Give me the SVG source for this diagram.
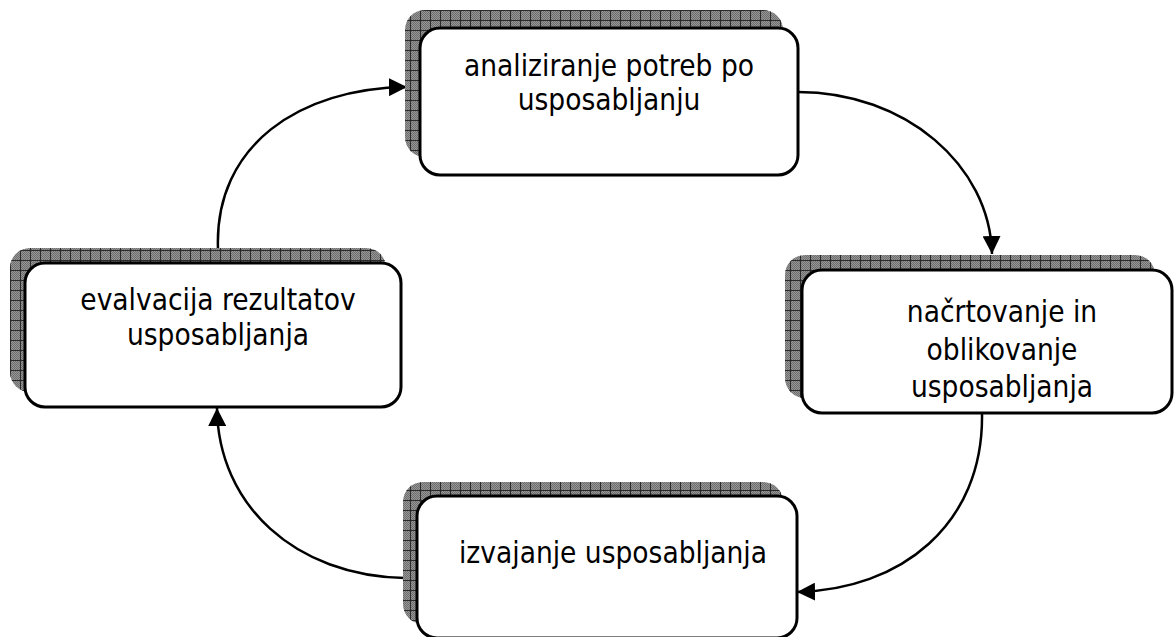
<svg xmlns="http://www.w3.org/2000/svg" width="1174" height="637" viewBox="0 0 1174 637">
<style>
.box{fill:#ffffff;stroke:#000000;stroke-width:3}
.sh1{fill:url(#dither)}
.sh2{fill:url(#grid)}
.lbl{font-family:"DejaVu Sans Condensed","DejaVu Sans",sans-serif;font-size:29.5px;fill:#000000;text-anchor:middle}
.con{fill:none;stroke:#000000;stroke-width:2.5}
</style>
<defs>
<pattern id="dither" width="2" height="2" patternUnits="userSpaceOnUse">
<rect width="2" height="2" fill="#969696"/>
<rect width="1" height="1" fill="#6e6e6e"/>
<rect x="1" y="1" width="1" height="1" fill="#6e6e6e"/>
</pattern>
<pattern id="grid" width="10" height="10" patternUnits="userSpaceOnUse">
<path d="M0 0.5 H10 M0.5 0 V10" stroke="#2a2a2a" stroke-width="1" fill="none"/>
</pattern>
<marker id="arr" markerWidth="18" markerHeight="18" viewBox="0 0 18 18" refX="18" refY="9" orient="auto" markerUnits="userSpaceOnUse">
<path d="M0 0 L18 9 L0 18 Z" fill="#000000"/>
</marker>
</defs>

<g id="connectors">
<path class="con" d="M798 92 C 905 92, 990 165, 992 254" marker-end="url(#arr)"/>
<path class="con" d="M982 413 C 984 525, 900 590, 797 592" marker-end="url(#arr)"/>
<path class="con" d="M405 578 C 295 576, 218 505, 217 408" marker-end="url(#arr)"/>
<path class="con" d="M218 249 C 214 145, 300 88, 407 87" marker-end="url(#arr)"/>
</g>

<g id="node-analiziranje">
<rect class="sh1" x="405" y="10" width="378" height="147" rx="20"/>
<rect class="sh2" x="405" y="10" width="378" height="147" rx="20"/>
<rect class="box" x="420" y="28" width="378" height="147" rx="20"/>
<text class="lbl" x="609" y="76">analiziranje potreb po</text>
<text class="lbl" x="609" y="110">usposabljanju</text>
</g>

<g id="node-nacrtovanje">
<rect class="sh1" x="785" y="255" width="370" height="143" rx="20"/>
<rect class="sh2" x="785" y="255" width="370" height="143" rx="20"/>
<rect class="box" x="802" y="270" width="370" height="143" rx="20"/>
<text class="lbl" x="1002" y="322">načrtovanje in</text>
<text class="lbl" x="1002" y="360">oblikovanje</text>
<text class="lbl" x="1002" y="397">usposabljanja</text>
</g>

<g id="node-izvajanje">
<rect class="sh1" x="403" y="482" width="380" height="142" rx="20"/>
<rect class="sh2" x="403" y="482" width="380" height="142" rx="20"/>
<rect class="box" x="417" y="496" width="380" height="142" rx="20"/>
<text class="lbl" x="613" y="563">izvajanje usposabljanja</text>
</g>

<g id="node-evalvacija">
<rect class="sh1" x="10" y="248" width="376" height="144" rx="20"/>
<rect class="sh2" x="10" y="248" width="376" height="144" rx="20"/>
<rect class="box" x="25" y="263" width="376" height="144" rx="20"/>
<text class="lbl" x="218" y="310">evalvacija rezultatov</text>
<text class="lbl" x="218" y="345">usposabljanja</text>
</g>
</svg>
